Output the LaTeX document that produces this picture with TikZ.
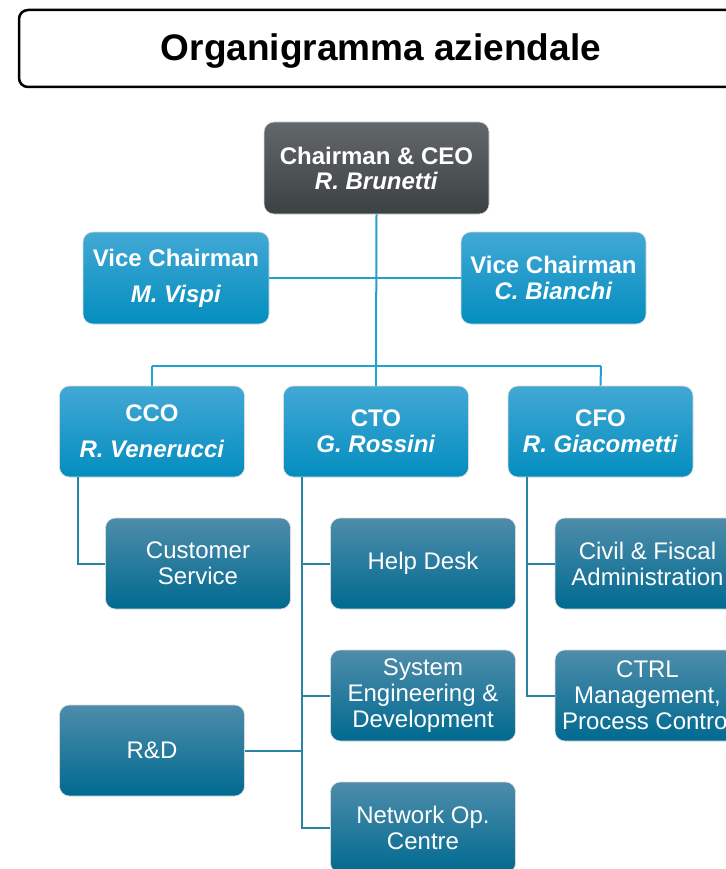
\documentclass[tikz,border=0pt]{standalone}
\usepackage{fontspec}
\setmainfont{Liberation Sans}
\definecolor{ceoTop}{HTML}{62676A}
\definecolor{ceoBot}{HTML}{3C4143}
\definecolor{blueTop}{HTML}{42A8D5}
\definecolor{blueBot}{HTML}{038EBF}
\definecolor{tealTop}{HTML}{4E8CAA}
\definecolor{tealBot}{HTML}{006A90}
\definecolor{blueLink}{HTML}{22A0D0}
\definecolor{tealLink}{HTML}{2A82A4}
\begin{document}
\begin{tikzpicture}[x=1pt,y=-1pt,
  box/.style={rounded corners=10pt, minimum width=185pt, minimum height=92pt,
    text=white, align=center, inner sep=0pt, draw=white!70!gray, line width=0.6pt},
  graybox/.style={box, top color=ceoTop, bottom color=ceoBot,
    font=\fontsize{24}{25}\selectfont\bfseries},
  bluebox/.style={box, top color=blueTop, bottom color=blueBot,
    font=\fontsize{24}{26}\selectfont\bfseries},
  tealbox/.style={box, top color=tealTop, bottom color=tealBot,
    font=\fontsize{24}{26}\selectfont},
  blink/.style={draw=blueLink, line width=2pt},
  tlink/.style={draw=tealLink, line width=2pt}
]
\useasboundingbox (0,0) rectangle (725,869);

% title
\node[draw=black, line width=2.5pt, rounded corners=9pt, minimum width=724pt,
  minimum height=77pt, inner sep=0pt] (titlebox) at (381,48.5) {};
\node[font=\fontsize{37}{40}\selectfont\bfseries, inner sep=0pt] (title) at (381,51)
  {Organigramma aziendale};

% nodes
\node[graybox, minimum width=225pt] (ceo) at (376.5,168) {Chairman \& CEO\\\textit{R. Brunetti}};
\node[bluebox, minimum width=186pt] (vcl) at (176,278) {Vice Chairman\\[10pt]\textit{M. Vispi}};
\node[bluebox] (vcr) at (553.5,278) {Vice Chairman\\\textit{C. Bianchi}};
\node[bluebox, minimum height=91pt] (cco) at (152,431.5) {CCO\\[10pt]\textit{R. Venerucci}};
\node[bluebox, minimum height=91pt] (cto) at (376,431.5) {CTO\\\textit{G. Rossini}};
\node[bluebox, minimum height=91pt] (cfo) at (600.5,431.5) {CFO\\\textit{R. Giacometti}};

\node[tealbox, minimum height=91pt] (cs) at (198,563.5) {Customer\\Service};
\node[tealbox, minimum height=91pt] (hd) at (423,563.5) {Help Desk};
\node[tealbox, minimum height=91pt] (civ) at (647.5,563.5) {Civil \& Fiscal\\Administration};
\node[tealbox, minimum height=91pt] (se) at (423,695.5) {System\\Engineering \&\\Development};
\node[tealbox, minimum height=91pt] (ctrl) at (647.5,695.5) {CTRL\\Management,\\Process Control};
\node[tealbox, minimum height=91pt] (rd) at (152,750.5) {R\&D};
\node[tealbox, minimum height=91pt] (noc) at (423,827.5) {Network Op.\\Centre};

% coordinates
\coordinate (bus) at (376,366);
\coordinate (busL) at (152,366);
\coordinate (busR) at (601,366);
\coordinate (ccoT) at (78,477);
\coordinate (ctoT) at (302,477);
\coordinate (cfoT) at (527,477);

% upper connectors
\draw[blink] (ceo.south) -- (bus);
\draw[blink] (vcl.east) -- (vcr.west);
\draw[blink] (busL) -- (busR);
\draw[blink] (busL) -- (cco.north);
\draw[blink] (bus) -- (cto.north);
\draw[blink] (busR) -- (cfo.north);

% lower connectors
\draw[tlink] (ccoT) |- (cs.west);
\draw[tlink] (ctoT) |- (noc.west);
\draw[tlink] (ctoT |- hd.west) -- (hd.west);
\draw[tlink] (ctoT |- se.west) -- (se.west);
\draw[tlink] (rd.east) -- (ctoT |- rd.east);
\draw[tlink] (cfoT) |- (ctrl.west);
\draw[tlink] (cfoT |- civ.west) -- (civ.west);
\end{tikzpicture}
\end{document}
